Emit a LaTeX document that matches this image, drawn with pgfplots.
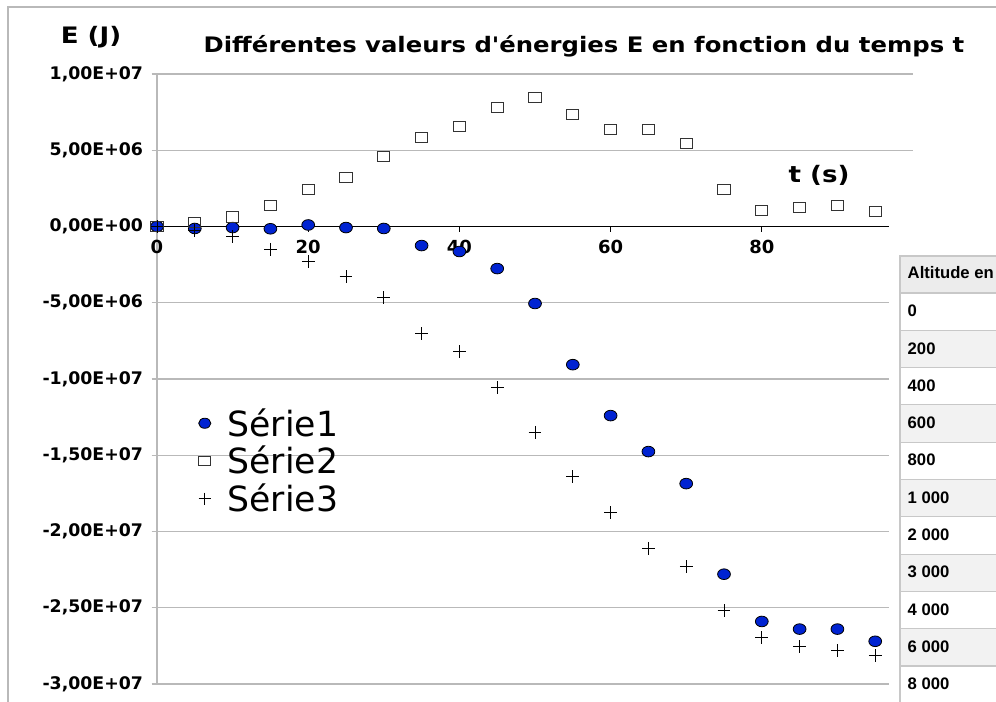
\documentclass[border=0pt]{standalone}
\usepackage{pgfplots}
\pgfplotsset{compat=1.18}
\usepackage{fontspec}
\setmainfont{DejaVu Sans}[Ligatures=TeXOff]
\newfontfamily\arialf{Liberation Sans}
\definecolor{serblue}{RGB}{0,35,210}
\definecolor{gridgray}{RGB}{185,185,185}
\definecolor{tabgray}{RGB}{236,236,236}
\definecolor{tabline}{RGB}{200,200,200}

\pgfplotstableread{
t E1 E2 E3
0 0 0 0
5 -0.13e6 0.25e6 -0.26e6
10 -0.07e6 0.62e6 -0.66e6
15 -0.15e6 1.38e6 -1.5e6
20 0.1e6 2.43e6 -2.3e6
25 -0.07e6 3.2e6 -3.28e6
30 -0.13e6 4.6e6 -4.66e6
35 -1.25e6 5.84e6 -7.02e6
40 -1.64e6 6.56e6 -8.2e6
45 -2.76e6 7.8e6 -10.56e6
50 -5.05e6 8.46e6 -13.5e6
55 -9.06e6 7.35e6 -16.4e6
60 -12.4e6 6.37e6 -18.77e6
65 -14.76e6 6.37e6 -21.1e6
70 -16.86e6 5.45e6 -22.3e6
75 -22.8e6 2.43e6 -25.2e6
80 -25.9e6 1.05e6 -26.97e6
85 -26.4e6 1.25e6 -27.56e6
90 -26.4e6 1.38e6 -27.8e6
95 -27.2e6 0.98e6 -28.15e6
}\datatable

\begin{document}
\begin{tikzpicture}
\useasboundingbox (0,0) rectangle (747pt,526.5pt);
\fill[white] (0,0) rectangle (747pt,526.5pt);
\begin{scope}[x=0.75pt,y=-0.75pt,shift={(0,526.5pt)}]
  \draw[gridgray, line width=0.9pt] (8,702) -- (8,7) -- (1000,7);
\end{scope}
\begin{axis}[
  at={(117.75pt,13.5pt)}, anchor=south west,
  scale only axis, width=567pt, height=457.5pt,
  xmin=0, xmax=100, ymin=-3e7, ymax=1e7,
  axis x line=middle, axis y line=left,
  x axis line style={draw=none, -},
  y axis line style={gridgray, line width=0.8pt, -},
  xtick={0,20,40,60,80},
  xticklabels={0,20,40,60,80},
  hide obscured x ticks=false,
  ytick={-3e7,-2.5e7,-2e7,-1.5e7,-1e7,-5e6,0,5e6,1e7},
  yticklabels={{-3,00E+07},{-2,50E+07},{-2,00E+07},{-1,50E+07},{-1,00E+07},{-5,00E+06},{0,00E+00},{5,00E+06},{1,00E+07}},
  scaled y ticks=false,
  tick align=outside,
  major tick length=4pt,
  x tick style={black, line width=1pt},
  y tick style={gridgray, line width=0.8pt},
  xticklabel style={font=\bfseries\fontsize{13.5}{13.5}\selectfont, yshift=-3pt},
  yticklabel style={font=\bfseries\fontsize{13}{13}\selectfont, xshift=-3pt},
  ymajorgrids, grid style={gridgray, line width=0.8pt},
  clip=false,
  legend style={draw=none, fill=none, at={(0.047,0.461)}, anchor=north west,
    font=\fontsize{26}{31}\selectfont, row sep=2pt,
    nodes={inner xsep=2pt}},
  legend image code/.code={%
    \path[draw=none, fill=none] (0pt,-2pt) rectangle (21pt,2pt);
    \draw[#1, scale=0.95] plot coordinates {(6.3pt,0pt)};},
  legend cell align=left,
]
\draw[black, line width=1.4pt] (axis cs:0,0) -- (axis cs:96.8,0);
\addplot[only marks, mark=*, mark size=4pt,
  mark options={fill=serblue, draw=black, line width=0.6pt, xscale=1.2}]
  table[x=t, y=E1] {\datatable};
\addlegendentry{Série1}
\addplot[only marks, mark=square, mark size=4.6pt,
  mark options={draw=black!80, line width=0.7pt, yscale=0.85, fill=white}]
  table[x=t, y=E2] {\datatable};
\addlegendentry{Série2}
\addplot[only marks, mark=+, mark size=4.8pt,
  mark options={draw=black, line width=0.7pt}]
  table[x=t, y=E3] {\datatable};
\addlegendentry{Série3}
\end{axis}
\begin{scope}[x=0.75pt,y=-0.75pt,shift={(0,526.5pt)}]
  \fill[white] (889,218) rectangle (1000,702);
  \fill[tabgray] (900,256) rectangle (1000,293);
  \foreach \i in {1,3,5,7,9} {
    \fill[tabgray!70] (900,{293+37.3*\i}) rectangle (1000,{293+37.3*(\i+1)});
  }
  \draw[tabline, line width=0.8pt] (1000,256) -- (900,256) -- (900,702);
  \foreach \i in {0,...,10} {
    \draw[tabline, line width=0.8pt] (900,{293+37.3*\i}) -- (1000,{293+37.3*\i});
  }
  \node[anchor=west, font=\arialf\bfseries\fontsize{12.5}{14}\selectfont] at (903,273) {Altitude en};
  \foreach \lab [count=\i from 0] in {0,200,400,600,800,1 000,2 000,3 000,4 000,6 000,8 000} {
    \node[anchor=west, font=\arialf\bfseries\fontsize{12.5}{14}\selectfont] at (903,{311+37.3*\i}) {\lab};
  }
  \node[xscale=1.15, font=\bfseries\fontsize{17}{20}\selectfont] at (91,37) {E (J)};
  \node[xscale=1.14, font=\bfseries\fontsize{16}{19}\selectfont] at (584,46) {Différentes valeurs d'énergies E en fonction du temps t};
  \node[xscale=1.15, font=\bfseries\fontsize{17}{20}\selectfont] at (819,175) {t (s)};
\end{scope}
\end{tikzpicture}
\end{document}
